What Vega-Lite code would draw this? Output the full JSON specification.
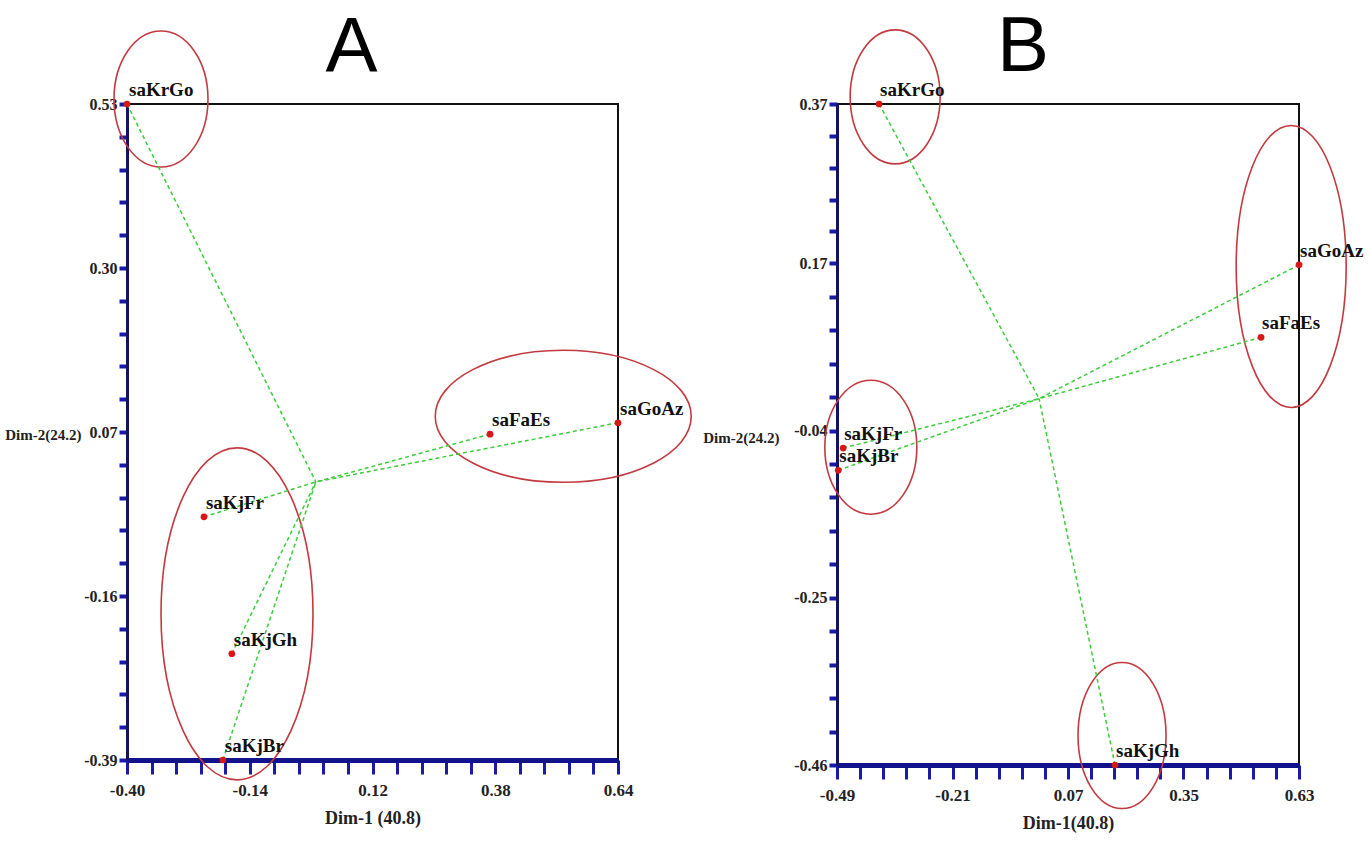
{
  "$schema": "https://vega.github.io/schema/vega-lite/v6.json",
  "background": "white",
  "padding": {"left": 3, "top": 7, "right": 0, "bottom": 0},
  "spacing": 5,
  "config": {
    "font": "Liberation Serif",
    "view": {"stroke": "#111111", "strokeWidth": 2},
    "axis": {
      "grid": false,
      "labelFont": "Liberation Serif",
      "labelColor": "#222222",
      "labelFontWeight": "bold",
      "titleFont": "Liberation Serif",
      "titleColor": "#222222",
      "titleFontWeight": "bold",
      "labelOverlap": false,
      "labelFlush": false,
      "labelBound": false
    }
  },
  "datasets": {
    "ptsA": [
      {"name": "saKrGo", "x": -0.40, "y": 0.53},
      {"name": "saFaEs", "x": 0.369, "y": 0.067},
      {"name": "saGoAz", "x": 0.64, "y": 0.083},
      {"name": "saKjFr", "x": -0.237, "y": -0.049},
      {"name": "saKjGh", "x": -0.178, "y": -0.241},
      {"name": "saKjBr", "x": -0.197, "y": -0.39}
    ],
    "ellA": [
      {"g": 1, "x": -0.328, "y": 0.537},
      {"g": 2, "x": 0.524, "y": 0.092},
      {"g": 3, "x": -0.167, "y": -0.185}
    ],
    "ptsB": [
      {"name": "saKrGo", "x": -0.388, "y": 0.37},
      {"name": "saGoAz", "x": 0.63, "y": 0.168},
      {"name": "saFaEs", "x": 0.538, "y": 0.077},
      {"name": "saKjFr", "x": -0.475, "y": -0.062},
      {"name": "saKjBr", "x": -0.487, "y": -0.09},
      {"name": "saKjGh", "x": 0.184, "y": -0.46}
    ],
    "ellB": [
      {"g": 1, "x": -0.349, "y": 0.379},
      {"g": 2, "x": 0.611, "y": 0.166},
      {"g": 3, "x": -0.408, "y": -0.061},
      {"g": 4, "x": 0.201, "y": -0.423}
    ]
  },
  "hconcat": [
    {
      "width": 491,
      "height": 656,
      "title": {"text": "A", "font": "Liberation Sans", "fontSize": 78, "fontWeight": "normal", "color": "#000000", "anchor": "middle", "dx": -21, "offset": -122, "baseline": "alphabetic"},
      "encoding": {
        "x": {
          "field": "x", "type": "quantitative",
          "scale": {"domain": [-0.40, 0.64], "nice": false, "zero": false},
          "axis": {
            "values": [-0.40, -0.348, -0.296, -0.244, -0.192, -0.14, -0.088, -0.036, 0.016, 0.068, 0.12, 0.172, 0.224, 0.276, 0.328, 0.38, 0.432, 0.484, 0.536, 0.588, 0.64],
            "labelExpr": "(datum.value == -0.4 || datum.value == -0.14 || datum.value == 0.12 || datum.value == 0.38 || datum.value == 0.64) ? replace(format(datum.value, '.2f'), '\u2212', '-') : ''",
            "domainColor": "#12128c", "domainWidth": 5,
            "tickColor": "#1a1aa6", "tickWidth": 3, "tickSize": 14,
            "labelFontSize": 17, "labelPadding": 8,
            "title": "Dim-1 (40.8)", "titleFontSize": 18, "titlePadding": 11
          }
        },
        "y": {
          "field": "y", "type": "quantitative",
          "scale": {"domain": [-0.39, 0.53], "nice": false, "zero": false},
          "axis": {
            "values": [0.53, 0.484, 0.438, 0.392, 0.346, 0.30, 0.254, 0.208, 0.162, 0.116, 0.07, 0.024, -0.022, -0.068, -0.114, -0.16, -0.206, -0.252, -0.298, -0.344, -0.39],
            "labelExpr": "(datum.value == 0.53 || datum.value == 0.3 || datum.value == 0.07 || datum.value == -0.16 || datum.value == -0.39) ? replace(format(datum.value, '.2f'), '\u2212', '-') : ''",
            "domainColor": "#14145e", "domainWidth": 3,
            "tickColor": "#1a1aa6", "tickWidth": 4, "tickSize": 8,
            "labelFontSize": 16, "labelPadding": 2,
            "title": "Dim-2(24.2)", "titleFontSize": 15, "titleAngle": 0,
            "titleAlign": "right", "titleBaseline": "middle", "titleX": -46, "titleY": 330
          }
        }
      },
      "layer": [
        {
          "data": {"name": "ellA"},
          "transform": [{"filter": "datum.g == 1"}],
          "mark": {"type": "point", "shape": "M-47,0A47,68 0 1,0 47,0A47,68 0 1,0 -47,0", "size": 4, "filled": false, "stroke": "#c23a40", "strokeWidth": 1.6, "opacity": 1}
        },
        {
          "data": {"name": "ellA"},
          "transform": [{"filter": "datum.g == 2"}],
          "mark": {"type": "point", "shape": "M-128,0A128,66 0 1,0 128,0A128,66 0 1,0 -128,0", "size": 4, "filled": false, "stroke": "#c23a40", "strokeWidth": 1.6, "opacity": 1}
        },
        {
          "data": {"name": "ellA"},
          "transform": [{"filter": "datum.g == 3"}],
          "mark": {"type": "point", "shape": "M-76,0A76,166 0 1,0 76,0A76,166 0 1,0 -76,0", "size": 4, "filled": false, "stroke": "#c23a40", "strokeWidth": 1.6, "opacity": 1}
        },
        {
          "data": {"name": "ptsA"},
          "mark": {"type": "rule", "color": "#3ccc3c", "strokeWidth": 1.5, "strokeDash": [4, 3]},
          "encoding": {"x2": {"datum": 0}, "y2": {"datum": 0}}
        },
        {
          "data": {"name": "ptsA"},
          "mark": {"type": "point", "shape": "circle", "filled": true, "size": 45, "color": "#d81818", "opacity": 1}
        },
        {
          "data": {"name": "ptsA"},
          "mark": {"type": "text", "align": "left", "baseline": "alphabetic", "dx": 2, "dy": -8, "font": "Liberation Serif", "fontSize": 19, "fontWeight": "bold", "color": "#111111"},
          "encoding": {"text": {"field": "name"}}
        }
      ]
    },
    {
      "width": 462,
      "height": 661,
      "title": {"text": "B", "font": "Liberation Sans", "fontSize": 78, "fontWeight": "normal", "color": "#000000", "anchor": "middle", "dx": -45, "offset": -122, "baseline": "alphabetic"},
      "encoding": {
        "x": {
          "field": "x", "type": "quantitative",
          "scale": {"domain": [-0.49, 0.63], "nice": false, "zero": false},
          "axis": {
            "values": [-0.49, -0.434, -0.378, -0.322, -0.266, -0.21, -0.154, -0.098, -0.042, 0.014, 0.07, 0.126, 0.182, 0.238, 0.294, 0.35, 0.406, 0.462, 0.518, 0.574, 0.63],
            "labelExpr": "(datum.value == -0.49 || datum.value == -0.21 || datum.value == 0.07 || datum.value == 0.35 || datum.value == 0.63) ? replace(format(datum.value, '.2f'), '\u2212', '-') : ''",
            "domainColor": "#12128c", "domainWidth": 5,
            "tickColor": "#1a1aa6", "tickWidth": 3, "tickSize": 14,
            "labelFontSize": 17, "labelPadding": 8,
            "title": "Dim-1(40.8)", "titleFontSize": 18, "titlePadding": 11
          }
        },
        "y": {
          "field": "y", "type": "quantitative",
          "scale": {"domain": [-0.46, 0.37], "nice": false, "zero": false},
          "axis": {
            "values": [0.37, 0.33, 0.29, 0.25, 0.21, 0.17, 0.128, 0.086, 0.044, 0.002, -0.04, -0.082, -0.124, -0.166, -0.208, -0.25, -0.292, -0.334, -0.376, -0.418, -0.46],
            "labelExpr": "(datum.value == 0.37 || datum.value == 0.17 || datum.value == -0.04 || datum.value == -0.25 || datum.value == -0.46) ? replace(format(datum.value, '.2f'), '\u2212', '-') : ''",
            "domainColor": "#14145e", "domainWidth": 3,
            "tickColor": "#1a1aa6", "tickWidth": 4, "tickSize": 8,
            "labelFontSize": 16, "labelPadding": 2,
            "title": "Dim-2(24.2)", "titleFontSize": 15, "titleAngle": 0,
            "titleAlign": "right", "titleBaseline": "middle", "titleX": -58, "titleY": 333
          }
        }
      },
      "layer": [
        {
          "data": {"name": "ellB"},
          "transform": [{"filter": "datum.g == 1"}],
          "mark": {"type": "point", "shape": "M-45,0A45,67 0 1,0 45,0A45,67 0 1,0 -45,0", "size": 4, "filled": false, "stroke": "#c23a40", "strokeWidth": 1.6, "opacity": 1}
        },
        {
          "data": {"name": "ellB"},
          "transform": [{"filter": "datum.g == 2"}],
          "mark": {"type": "point", "shape": "M-55,0A55,141 0 1,0 55,0A55,141 0 1,0 -55,0", "size": 4, "filled": false, "stroke": "#c23a40", "strokeWidth": 1.6, "opacity": 1}
        },
        {
          "data": {"name": "ellB"},
          "transform": [{"filter": "datum.g == 3"}],
          "mark": {"type": "point", "shape": "M-46,0A46,67 0 1,0 46,0A46,67 0 1,0 -46,0", "size": 4, "filled": false, "stroke": "#c23a40", "strokeWidth": 1.6, "opacity": 1}
        },
        {
          "data": {"name": "ellB"},
          "transform": [{"filter": "datum.g == 4"}],
          "mark": {"type": "point", "shape": "M-44,0A44,73 0 1,0 44,0A44,73 0 1,0 -44,0", "size": 4, "filled": false, "stroke": "#c23a40", "strokeWidth": 1.6, "opacity": 1}
        },
        {
          "data": {"name": "ptsB"},
          "mark": {"type": "rule", "color": "#3ccc3c", "strokeWidth": 1.5, "strokeDash": [4, 3]},
          "encoding": {"x2": {"datum": 0}, "y2": {"datum": 0}}
        },
        {
          "data": {"name": "ptsB"},
          "mark": {"type": "point", "shape": "circle", "filled": true, "size": 45, "color": "#d81818", "opacity": 1}
        },
        {
          "data": {"name": "ptsB"},
          "mark": {"type": "text", "align": "left", "baseline": "alphabetic", "dx": 1, "dy": -8, "font": "Liberation Serif", "fontSize": 19, "fontWeight": "bold", "color": "#111111"},
          "encoding": {"text": {"field": "name"}}
        }
      ]
    }
  ]
}
